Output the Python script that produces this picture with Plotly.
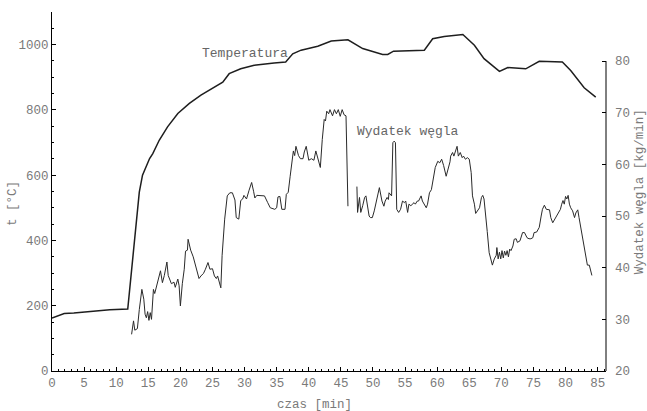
import plotly.graph_objects as go

# Temperature [°C] vs time [min]
temp_t = [0, 1.0, 1.9, 3.4, 5.0, 7.1, 9.0, 11.8, 13.6, 14.1, 14.6, 15.2, 15.7, 16.7, 18.0, 19.6,
          21.4, 23.2, 26.6, 27.6, 29.4, 31.5, 34.6, 36.4, 37.5, 38.8, 41.4, 43.5, 46.1, 48.4, 51.5,
          52.3, 53.2, 58.0, 59.3, 61.1, 64.0, 65.8, 67.3, 69.7, 71.0, 73.8, 75.9, 79.5, 80.8,
          82.9, 84.7]
temp_v = [162, 170, 176, 178, 181, 186, 188, 190, 548, 600, 625, 651, 666, 707, 748, 789,
          820, 845, 885, 911, 926, 937, 944, 947, 972, 983, 995, 1011, 1015, 988, 970,
          970, 980, 983, 1018, 1025, 1031, 998, 957, 918, 930, 926, 949, 947, 921,
          868, 839]

# Coal consumption [kg/min] vs time [min] (None = gap in record)
coal_t = [12.4, 12.7, 12.9, 13.3, 13.6, 14.0, 14.3, 14.5, 14.7, 14.9, 15.1, 15.3, 15.5, 15.6,
          15.8, 16.0, 16.4, 16.9, 17.2, 17.5, 17.9, 18.1, 18.6, 19.0, 19.2, 19.6, 19.8, 20.0,
          20.3, 20.6, 20.8, 21.1, 21.2, 21.6, 22.0, 22.4, 22.9, 23.2, 23.6, 23.9, 24.3, 24.6,
          25.0, 25.3, 25.6, 25.8, 26.1, 26.3, 26.5, 26.9, 27.3, 27.7, 28.1, 28.5, 28.7, 29.1,
          29.4, 29.7, 29.9, 30.3, 30.7, 31.1, 31.4, 31.6, 31.9, 33.1, 33.6, 34.0, 34.7, 35.0,
          35.2, 35.5, 35.8, 36.3, 36.5, 36.8, 37.1, 37.4, 37.6, 37.8, 38.0, 38.4, 38.7, 39.1,
          39.3, 39.6, 40.0, 40.4, 40.8, 41.1, 41.4, 41.8, 42.1, 42.4, 42.6, 42.8, 43.1, 43.3,
          43.7, 44.0, 44.3, 44.6, 44.9, 45.2, 45.5, 45.8, 46.1, None,
          47.5, 47.6, 47.9, 48.1, 48.4, 48.7, 48.9, 49.1, 49.4, 49.6, 49.9, 50.2, 50.4, 50.6,
          50.8, 51.0, 51.4, 51.7, 51.9, 52.2, 52.4, 52.5, 52.9, 53.1, 53.3, 53.5, 53.7, 54.0,
          54.3, 54.6, 54.9, 55.1, 55.4, 55.6, 55.9, 56.1, 56.4, 56.6, 56.9, 57.1, 57.5, 57.7,
          58.0, 58.3, 58.5, 58.8, 59.1, 59.4, 59.7, 60.1, 60.4, 60.7, 61.0, 61.4, 61.7, 62.0,
          62.1, 62.4, 62.6, 62.9, 63.1, 63.3, 63.6, 63.9, 64.1, 64.4, 64.7, 65.0, 65.3, 65.5,
          65.8, 66.0, 66.3, 66.6, 66.9, 67.1, 67.3, 67.6, 67.8, 68.1, 68.4, 68.6, 68.9, 69.2,
          69.3, 69.5, 69.7, 69.9, 70.1, 70.3, 70.5, 70.7, 70.9, 71.1, 71.3, 71.5, 71.8, 72.0,
          72.3, 72.5, 72.9, 73.3, 73.6, 74.0, 74.3, 74.6, 74.9, 75.1, 75.5, 75.9, 76.2, 76.4,
          76.7, 77.0, 77.5, 77.7, 78.0, 78.3, 78.6, 78.9, 79.2, 79.4, 79.6, 79.8, 80.0, 80.2,
          80.4, 80.6, 80.8, 81.1, 81.4, 81.6, 81.9, 82.1, 82.4, 82.9, 83.1, 83.4, 83.7, 83.9,
          84.1]
coal_v = [27.1, 29.7, 27.9, 28.2, 31.9, 35.8, 33.9, 31.0, 30.3, 31.5, 29.8, 31.3, 30.0, 31.4,
          35.8, 35.0, 37.1, 39.4, 37.1, 38.5, 41.1, 38.5, 36.9, 37.2, 36.2, 37.8, 36.5, 32.6,
          36.9, 39.7, 43.2, 43.4, 45.5, 43.4, 42.1, 40.2, 37.9, 38.4, 38.9, 39.7, 41.0, 39.7,
          39.8, 38.4, 37.9, 38.4, 36.8, 36.1, 42.4, 49.4, 53.9, 54.5, 54.5, 53.1, 49.7, 49.4,
          53.0, 53.3, 54.0, 53.3, 55.0, 56.5, 54.8, 53.5, 54.0, 53.9, 52.6, 51.6, 51.3, 51.6,
          53.7, 53.8, 51.3, 51.3, 54.2, 54.6, 57.7, 61.3, 62.6, 61.7, 63.5, 61.7, 61.1, 61.1,
          62.4, 63.5, 60.8, 61.1, 60.8, 62.6, 61.3, 59.4, 64.8, 68.7, 68.4, 70.3, 69.8, 70.6,
          69.4, 70.6, 69.8, 70.6, 69.3, 70.6, 69.6, 69.4, 51.9, None,
          55.7, 50.7, 53.6, 50.7, 52.0, 53.6, 53.9, 52.3, 50.0, 49.7, 49.7, 51.0, 52.0, 53.6,
          54.5, 55.5, 52.9, 51.9, 52.9, 53.6, 53.2, 54.5, 53.9, 64.2, 64.5, 64.2, 51.3, 50.7,
          51.3, 52.9, 52.6, 52.9, 50.7, 52.3, 52.0, 52.3, 52.6, 52.3, 52.9, 52.9, 53.9, 52.9,
          52.3, 51.6, 52.3, 54.5, 55.1, 57.4, 59.4, 60.6, 60.3, 61.0, 59.8, 57.7, 59.1, 60.5,
          61.6, 62.3, 61.6, 62.9, 63.5, 61.6, 62.3, 61.3, 61.6, 61.0, 61.3, 61.0, 58.4, 53.9,
          52.3, 50.5, 51.1, 51.6, 53.6, 54.0, 53.3, 48.4, 47.0, 42.9, 41.7, 40.5, 41.7, 42.4,
          43.9, 41.7, 43.0, 41.7, 43.3, 41.9, 43.2, 42.4, 43.3, 42.1, 43.6, 43.3, 44.2, 45.5,
          45.6, 44.9, 45.2, 46.8, 46.8, 45.8, 45.6, 45.6, 45.8, 46.8, 46.9, 47.8, 50.0, 51.3,
          52.1, 51.3, 51.2, 49.7, 48.7, 49.4, 50.0, 50.8, 51.3, 52.3, 53.0, 52.3, 53.8, 53.3,
          54.0, 52.3, 51.6, 51.0, 49.7, 50.6, 51.2, 49.7, 47.4, 44.2, 42.3, 40.5, 40.5, 39.4,
          38.5]

x_tickvals = list(range(0, 90, 5))
y_tickvals = [0, 200, 400, 600, 800, 1000]
y2_tickvals = [20, 30, 40, 50, 60, 70, 80]

FONT = "Liberation Mono, Courier New, monospace"
GREY = "#7a7a7a"

fig = go.Figure()
fig.add_trace(go.Scatter(x=temp_t, y=temp_v, mode="lines",
                         line=dict(color="#1e1e1e", width=1.5),
                         yaxis="y", showlegend=False))
fig.add_trace(go.Scatter(x=coal_t, y=coal_v, mode="lines",
                         line=dict(color="#2a2a2a", width=1), yaxis="y2",
                         connectgaps=False, showlegend=False))

fig.update_layout(
    width=647, height=411,
    margin=dict(l=52, r=41, t=12, b=40),
    paper_bgcolor="white", plot_bgcolor="white",
    font=dict(family=FONT, size=12.5, color=GREY),
    xaxis=dict(range=[0, 86.3], tickvals=x_tickvals, ticks="inside", ticklen=4,
               tickcolor="black", showline=True, linecolor="black", linewidth=1,
               showgrid=False, zeroline=False, mirror=False,
               tickfont=dict(family=FONT, size=12.5, color=GREY),
               minor=dict(dtick=1, ticks="inside", ticklen=2, tickcolor="black")),
    yaxis=dict(range=[0, 1100], tickvals=y_tickvals, ticks="inside", ticklen=4,
               tickcolor="black", showline=True, linecolor="black", linewidth=1,
               showgrid=False, zeroline=False,
               tickfont=dict(family=FONT, size=12.5, color=GREY),
               minor=dict(dtick=50, ticks="inside", ticklen=2, tickcolor="black")),
    yaxis2=dict(range=[20, 89.5], tickvals=y2_tickvals, overlaying="y", side="right",
                ticks="inside", ticklen=4, tickcolor="black", showline=False,
                showgrid=False, zeroline=False, ticklabelstandoff=8,
                tickfont=dict(family=FONT, size=12.5, color=GREY)),
)

# right axis line drawn only over its labelled span (20..80)
fig.add_shape(type="line", xref="paper", yref="y2", x0=1, x1=1, y0=20, y1=80,
              line=dict(color="black", width=1))

fig.add_annotation(text="Temperatura", xref="x", yref="y", x=30.1, y=973,
                   showarrow=False, font=dict(family=FONT, size=13, color="#666"))
fig.add_annotation(text="Wydatek węgla", xref="x", yref="y", x=55.4, y=734,
                   showarrow=False, font=dict(family=FONT, size=13, color="#666"))
fig.add_annotation(text="t [°C]", xref="paper", yref="paper", x=-0.0704, y=0.468,
                   xanchor="center", yanchor="middle", textangle=-90, showarrow=False,
                   font=dict(family=FONT, size=12.5, color=GREY))
fig.add_annotation(text="czas [min]", xref="paper", yref="paper", x=0.4747, y=-0.0947,
                   xanchor="center", yanchor="middle", showarrow=False,
                   font=dict(family=FONT, size=12.5, color=GREY))
fig.add_annotation(text="Wydatek węgla [kg/min]", xref="paper", yref="paper",
                   x=1.062, y=0.4986, xanchor="center", yanchor="middle",
                   textangle=-90, showarrow=False,
                   font=dict(family=FONT, size=12.5, color=GREY))

fig.write_html("out.html")
